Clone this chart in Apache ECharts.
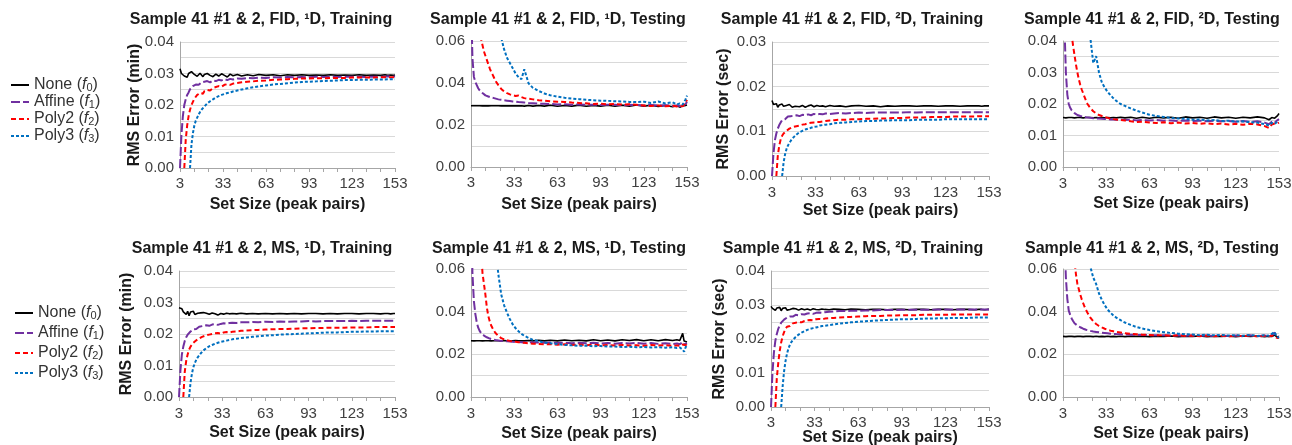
<!DOCTYPE html>
<html><head><meta charset="utf-8">
<script src="https://cdn.jsdelivr.net/npm/echarts@6/dist/echarts.min.js"></script>
<style>html,body{margin:0;padding:0;background:#fff}#c{width:1292px;height:445px}</style>
</head><body><div id="c"></div>
<script>
// ---------------- DATA ----------------
const SET_SIZE = [
 3,4,5,6,7,8,9,10,11,12,13,14,15,16,17,18,19,20,
 22,24,26,28,30,32,34,36,38,40,
 43,46,50,54,58,
 63,68,73,78,83,88,93,98,103,108,113,118,123,128,133,138,143,
 146,148,150,151,152,153];
const X_TICKS = [3,33,63,93,123,153];
const SERIES_NAMES = ['None','Affine','Poly2','Poly3'];
const SUBSCRIPTS = ['0','1','2','3'];

// Panel 1: FID 1D Training
const P1_NONE = [
 0.0315,0.0300,0.0303,0.0292,0.0298,0.0288,0.0300,0.0296,0.0306,0.0302,0.0297,0.0300,0.0291,0.0296,0.0301,0.0295,0.0290,0.0297,
 0.0300,0.0294,0.0290,0.0298,0.0292,0.0299,0.0294,0.0289,0.0298,0.0293,
 0.0297,0.0292,0.0296,0.0293,0.0297,
 0.0294,0.0296,0.0293,0.0296,0.0294,0.0296,0.0294,0.0295,0.0294,0.0296,0.0294,0.0295,0.0294,0.0296,0.0294,0.0295,0.0294,
 0.0296,0.0294,0.0295,0.0296,0.0294,0.0295];
const P1_AFFINE = [
 0.0000,0.0105,0.0165,0.0200,0.0218,0.0232,0.0240,0.0250,0.0255,0.0260,0.0258,0.0265,0.0268,0.0264,0.0270,0.0272,0.0268,0.0274,
 0.0276,0.0272,0.0278,0.0276,0.0280,0.0278,0.0282,0.0279,0.0283,0.0281,
 0.0284,0.0283,0.0286,0.0285,0.0287,
 0.0286,0.0288,0.0287,0.0289,0.0288,0.0289,0.0288,0.0290,0.0289,0.0290,0.0289,0.0290,0.0290,0.0290,0.0289,0.0290,0.0290,
 0.0290,0.0291,0.0290,0.0291,0.0290,0.0291];
const P1_POLY2 = [
 null,null,null,0.0000,0.0090,0.0135,0.0165,0.0185,0.0200,0.0210,0.0220,0.0225,0.0232,0.0230,0.0238,0.0240,0.0236,0.0244,
 0.0248,0.0246,0.0254,0.0257,0.0260,0.0258,0.0264,0.0266,0.0264,0.0268,
 0.0270,0.0272,0.0274,0.0275,0.0277,
 0.0278,0.0280,0.0281,0.0282,0.0283,0.0284,0.0284,0.0285,0.0285,0.0286,0.0286,0.0286,0.0287,0.0287,0.0287,0.0287,0.0288,
 0.0288,0.0288,0.0288,0.0288,0.0288,0.0288];
const P1_POLY3 = [
 null,null,null,null,null,null,null,0.0000,0.0075,0.0110,0.0135,0.0150,0.0160,0.0170,0.0178,0.0185,0.0190,0.0195,
 0.0205,0.0212,0.0218,0.0224,0.0228,0.0232,0.0235,0.0238,0.0240,0.0243,
 0.0246,0.0249,0.0253,0.0256,0.0259,
 0.0262,0.0265,0.0267,0.0269,0.0271,0.0273,0.0274,0.0275,0.0276,0.0277,0.0278,0.0279,0.0279,0.0280,0.0280,0.0281,0.0281,
 0.0281,0.0282,0.0282,0.0282,0.0282,0.0282];

// Panel 2: FID 1D Testing
const P2_NONE = [
 0.0292,0.0291,0.0292,0.0291,0.0292,0.0291,0.0292,0.0292,0.0291,0.0292,0.0291,0.0292,0.0291,0.0292,0.0292,0.0291,0.0292,0.0291,
 0.0292,0.0291,0.0292,0.0291,0.0292,0.0291,0.0292,0.0291,0.0292,0.0290,
 0.0293,0.0290,0.0293,0.0290,0.0294,
 0.0289,0.0293,0.0290,0.0294,0.0289,0.0293,0.0290,0.0294,0.0289,0.0294,0.0290,0.0295,0.0289,0.0294,0.0288,0.0293,0.0287,
 0.0292,0.0285,0.0291,0.0287,0.0293,0.0295];
const P2_AFFINE = [
 0.0800,0.0520,0.0430,0.0405,0.0390,0.0375,0.0365,0.0358,0.0352,0.0346,0.0341,0.0338,0.0336,0.0333,0.0331,0.0329,0.0328,0.0326,
 0.0322,0.0320,0.0318,0.0316,0.0314,0.0312,0.0311,0.0309,0.0308,0.0307,
 0.0305,0.0304,0.0302,0.0301,0.0300,
 0.0298,0.0299,0.0297,0.0298,0.0296,0.0297,0.0295,0.0297,0.0296,0.0294,0.0296,0.0295,0.0293,0.0295,0.0292,0.0294,0.0291,
 0.0293,0.0290,0.0292,0.0294,0.0300,0.0310];
const P2_POLY2 = [
 null,null,null,0.1500,0.1000,0.0800,0.0680,0.0610,0.0580,0.0550,0.0530,0.0510,0.0490,0.0470,0.0453,0.0440,0.0425,0.0410,
 0.0390,0.0372,0.0360,0.0352,0.0346,0.0342,0.0338,0.0340,0.0333,0.0328,
 0.0325,0.0322,0.0318,0.0316,0.0313,
 0.0311,0.0310,0.0307,0.0305,0.0303,0.0300,0.0302,0.0298,0.0300,0.0297,0.0299,0.0296,0.0293,0.0290,0.0293,0.0289,0.0292,
 0.0288,0.0291,0.0289,0.0295,0.0305,0.0320];
const P2_POLY3 = [
 null,null,null,null,null,null,null,null,null,null,null,null,null,null,null,null,null,0.0850,
 0.0720,0.0615,0.0560,0.0520,0.0495,0.0470,0.0445,0.0428,0.0418,0.0465,
 0.0398,0.0377,0.0362,0.0350,0.0342,
 0.0335,0.0330,0.0326,0.0323,0.0320,0.0318,0.0316,0.0315,0.0313,0.0312,0.0310,0.0309,0.0311,0.0305,0.0312,0.0303,0.0308,
 0.0298,0.0303,0.0297,0.0305,0.0322,0.0340];

// Panel 3: FID 2D Training
const P3_NONE = [
 0.0169,0.0160,0.0156,0.0162,0.0154,0.0159,0.0155,0.0161,0.0156,0.0153,0.0158,0.0155,0.0160,0.0156,0.0154,0.0158,0.0156,0.0159,
 0.0155,0.0158,0.0154,0.0157,0.0159,0.0155,0.0158,0.0156,0.0157,0.0155,
 0.0158,0.0156,0.0157,0.0155,0.0157,
 0.0158,0.0156,0.0157,0.0155,0.0157,0.0156,0.0157,0.0157,0.0156,0.0157,0.0157,0.0156,0.0157,0.0157,0.0156,0.0157,0.0157,
 0.0157,0.0156,0.0157,0.0157,0.0157,0.0157];
const P3_AFFINE = [
 0.0000,0.0050,0.0080,0.0095,0.0106,0.0114,0.0120,0.0125,0.0128,0.0127,0.0131,0.0133,0.0131,0.0134,0.0133,0.0135,0.0134,0.0136,
 0.0134,0.0137,0.0136,0.0138,0.0136,0.0139,0.0137,0.0139,0.0138,0.0140,
 0.0139,0.0140,0.0141,0.0140,0.0141,
 0.0142,0.0141,0.0142,0.0142,0.0142,0.0142,0.0142,0.0143,0.0142,0.0143,0.0143,0.0143,0.0143,0.0143,0.0143,0.0143,0.0143,
 0.0143,0.0143,0.0143,0.0143,0.0143,0.0143];
const P3_POLY2 = [
 null,null,null,0.0000,0.0045,0.0068,0.0082,0.0090,0.0095,0.0099,0.0101,0.0104,0.0106,0.0107,0.0109,0.0110,0.0111,0.0112,
 0.0113,0.0115,0.0116,0.0118,0.0119,0.0120,0.0121,0.0121,0.0122,0.0123,
 0.0124,0.0125,0.0126,0.0126,0.0127,
 0.0127,0.0128,0.0128,0.0129,0.0129,0.0130,0.0130,0.0131,0.0131,0.0131,0.0132,0.0132,0.0132,0.0133,0.0133,0.0133,0.0133,
 0.0134,0.0134,0.0134,0.0134,0.0134,0.0134];
const P3_POLY3 = [
 null,null,null,null,null,null,null,0.0000,0.0030,0.0048,0.0060,0.0068,0.0074,0.0079,0.0083,0.0087,0.0090,0.0093,
 0.0098,0.0101,0.0104,0.0106,0.0108,0.0110,0.0111,0.0113,0.0114,0.0115,
 0.0116,0.0118,0.0119,0.0120,0.0121,
 0.0122,0.0123,0.0123,0.0124,0.0124,0.0125,0.0125,0.0125,0.0126,0.0126,0.0126,0.0126,0.0127,0.0127,0.0127,0.0127,0.0127,
 0.0127,0.0127,0.0127,0.0127,0.0127,0.0127];

// Panel 4: FID 2D Testing
const P4_NONE = [
 0.0157,0.0157,0.0156,0.0157,0.0157,0.0156,0.0157,0.0157,0.0156,0.0157,0.0157,0.0156,0.0157,0.0157,0.0156,0.0157,0.0157,0.0156,
 0.0157,0.0156,0.0157,0.0156,0.0157,0.0156,0.0157,0.0156,0.0157,0.0156,
 0.0158,0.0156,0.0158,0.0155,0.0158,
 0.0155,0.0158,0.0156,0.0158,0.0155,0.0159,0.0156,0.0158,0.0155,0.0159,0.0156,0.0158,0.0155,0.0158,0.0156,0.0159,0.0156,
 0.0150,0.0157,0.0155,0.0160,0.0163,0.0170];
const P4_AFFINE = [
 0.0700,0.0450,0.0300,0.0230,0.0200,0.0188,0.0180,0.0175,0.0171,0.0168,0.0165,0.0163,0.0162,0.0161,0.0160,0.0159,0.0158,0.0157,
 0.0156,0.0155,0.0154,0.0154,0.0153,0.0152,0.0152,0.0151,0.0151,0.0150,
 0.0151,0.0149,0.0150,0.0148,0.0149,
 0.0148,0.0149,0.0147,0.0148,0.0146,0.0148,0.0146,0.0147,0.0145,0.0147,0.0145,0.0146,0.0144,0.0146,0.0143,0.0145,0.0141,
 0.0136,0.0144,0.0141,0.0146,0.0149,0.0152];
const P4_POLY2 = [
 null,null,null,0.2000,0.1200,0.0750,0.0420,0.0385,0.0355,0.0325,0.0300,0.0278,0.0260,0.0246,0.0234,0.0222,0.0210,0.0200,
 0.0187,0.0177,0.0170,0.0165,0.0162,0.0159,0.0156,0.0154,0.0152,0.0151,
 0.0149,0.0148,0.0145,0.0143,0.0144,
 0.0141,0.0140,0.0142,0.0139,0.0141,0.0138,0.0140,0.0137,0.0139,0.0136,0.0138,0.0135,0.0137,0.0134,0.0137,0.0135,0.0130,
 0.0124,0.0135,0.0138,0.0136,0.0139,0.0141];
const P4_POLY3 = [
 null,null,null,null,null,null,null,null,null,null,null,null,null,null,null,0.0800,0.0650,0.0550,
 0.0410,0.0330,0.0352,0.0300,0.0268,0.0252,0.0238,0.0228,0.0218,0.0210,
 0.0200,0.0194,0.0186,0.0179,0.0173,
 0.0166,0.0162,0.0159,0.0156,0.0154,0.0153,0.0150,0.0151,0.0148,0.0149,0.0146,0.0147,0.0144,0.0145,0.0142,0.0141,0.0136,
 0.0132,0.0140,0.0137,0.0141,0.0144,0.0143];

// Panel 5: MS 1D Training
const P5_NONE = [
 0.0283,0.0278,0.0280,0.0270,0.0276,0.0262,0.0272,0.0258,0.0270,0.0266,0.0272,0.0262,0.0268,0.0266,0.0270,0.0267,0.0264,0.0268,
 0.0266,0.0263,0.0267,0.0264,0.0260,0.0265,0.0263,0.0266,0.0264,0.0265,
 0.0264,0.0266,0.0264,0.0265,0.0264,
 0.0265,0.0264,0.0265,0.0264,0.0265,0.0264,0.0265,0.0265,0.0264,0.0265,0.0264,0.0265,0.0265,0.0264,0.0265,0.0265,0.0264,
 0.0265,0.0265,0.0264,0.0265,0.0265,0.0265];
const P5_AFFINE = [
 0.0000,0.0085,0.0135,0.0160,0.0178,0.0190,0.0198,0.0204,0.0208,0.0212,0.0215,0.0218,0.0216,0.0221,0.0223,0.0220,0.0225,0.0226,
 0.0228,0.0226,0.0230,0.0231,0.0229,0.0232,0.0234,0.0233,0.0235,0.0236,
 0.0235,0.0237,0.0237,0.0238,0.0237,
 0.0239,0.0238,0.0240,0.0239,0.0240,0.0240,0.0241,0.0240,0.0241,0.0241,0.0241,0.0241,0.0242,0.0241,0.0242,0.0242,0.0242,
 0.0242,0.0242,0.0242,0.0242,0.0242,0.0242];
const P5_POLY2 = [
 null,null,null,0.0000,0.0080,0.0115,0.0135,0.0150,0.0160,0.0166,0.0172,0.0176,0.0180,0.0184,0.0186,0.0189,0.0191,0.0193,
 0.0196,0.0198,0.0200,0.0202,0.0203,0.0201,0.0205,0.0206,0.0205,0.0207,
 0.0208,0.0210,0.0211,0.0212,0.0213,
 0.0214,0.0215,0.0216,0.0216,0.0217,0.0218,0.0218,0.0219,0.0219,0.0220,0.0220,0.0220,0.0221,0.0221,0.0221,0.0222,0.0222,
 0.0222,0.0222,0.0222,0.0222,0.0222,0.0222];
const P5_POLY3 = [
 null,null,null,null,null,null,null,0.0000,0.0045,0.0075,0.0095,0.0108,0.0118,0.0126,0.0132,0.0138,0.0143,0.0148,
 0.0155,0.0161,0.0165,0.0169,0.0172,0.0175,0.0177,0.0179,0.0181,0.0183,
 0.0185,0.0187,0.0189,0.0191,0.0193,
 0.0195,0.0196,0.0198,0.0199,0.0200,0.0201,0.0202,0.0203,0.0204,0.0205,0.0205,0.0206,0.0207,0.0207,0.0208,0.0208,0.0209,
 0.0209,0.0209,0.0209,0.0209,0.0209,0.0209];

// Panel 6: MS 1D Testing
const P6_NONE = [
 0.0264,0.0264,0.0263,0.0264,0.0264,0.0263,0.0264,0.0264,0.0263,0.0264,0.0264,0.0263,0.0264,0.0264,0.0263,0.0264,0.0264,0.0263,
 0.0264,0.0263,0.0265,0.0263,0.0264,0.0263,0.0265,0.0263,0.0264,0.0263,
 0.0265,0.0263,0.0266,0.0263,0.0266,
 0.0263,0.0267,0.0264,0.0266,0.0263,0.0268,0.0264,0.0267,0.0263,0.0268,0.0265,0.0269,0.0264,0.0268,0.0264,0.0269,0.0265,
 0.0268,0.0265,0.0298,0.0262,0.0255,0.0258];
const P6_AFFINE = [
 0.0900,0.0580,0.0450,0.0390,0.0350,0.0325,0.0310,0.0300,0.0293,0.0288,0.0284,0.0280,0.0277,0.0274,0.0272,0.0270,0.0268,0.0267,
 0.0265,0.0263,0.0262,0.0261,0.0260,0.0259,0.0258,0.0258,0.0257,0.0256,
 0.0257,0.0255,0.0256,0.0254,0.0255,
 0.0253,0.0255,0.0252,0.0254,0.0252,0.0254,0.0251,0.0253,0.0250,0.0253,0.0251,0.0254,0.0250,0.0253,0.0249,0.0252,0.0248,
 0.0251,0.0247,0.0258,0.0245,0.0250,0.0252];
const P6_POLY2 = [
 null,null,null,0.3000,0.1800,0.1200,0.0900,0.0680,0.0580,0.0530,0.0480,0.0420,0.0380,0.0355,0.0335,0.0322,0.0310,0.0300,
 0.0286,0.0276,0.0270,0.0266,0.0263,0.0261,0.0259,0.0257,0.0255,0.0254,
 0.0252,0.0250,0.0249,0.0247,0.0248,
 0.0245,0.0247,0.0244,0.0246,0.0243,0.0245,0.0242,0.0244,0.0241,0.0244,0.0241,0.0243,0.0240,0.0244,0.0241,0.0243,0.0240,
 0.0242,0.0239,0.0246,0.0238,0.0243,0.0246];
const P6_POLY3 = [
 null,null,null,null,null,null,null,null,null,null,null,null,null,null,null,0.0900,0.0800,0.0700,
 0.0575,0.0480,0.0430,0.0395,0.0365,0.0340,0.0322,0.0308,0.0296,0.0287,
 0.0277,0.0268,0.0261,0.0255,0.0252,
 0.0248,0.0244,0.0242,0.0240,0.0241,0.0238,0.0239,0.0236,0.0237,0.0234,0.0236,0.0233,0.0235,0.0232,0.0234,0.0231,0.0233,
 0.0230,0.0232,0.0222,0.0212,0.0232,0.0245];

// Panel 7: MS 2D Training
const P7_NONE = [
 0.0296,0.0290,0.0293,0.0284,0.0291,0.0286,0.0293,0.0283,0.0290,0.0288,0.0292,0.0285,0.0290,0.0287,0.0284,0.0290,0.0286,0.0289,
 0.0285,0.0289,0.0286,0.0288,0.0285,0.0289,0.0287,0.0286,0.0288,0.0287,
 0.0286,0.0288,0.0287,0.0286,0.0288,
 0.0287,0.0286,0.0287,0.0287,0.0286,0.0287,0.0287,0.0286,0.0287,0.0287,0.0286,0.0287,0.0287,0.0286,0.0287,0.0287,0.0286,
 0.0287,0.0287,0.0286,0.0287,0.0287,0.0287];
const P7_AFFINE = [
 0.0000,0.0100,0.0160,0.0195,0.0215,0.0230,0.0240,0.0248,0.0253,0.0257,0.0260,0.0263,0.0261,0.0266,0.0268,0.0266,0.0270,0.0271,
 0.0270,0.0273,0.0272,0.0275,0.0276,0.0274,0.0277,0.0278,0.0277,0.0279,
 0.0280,0.0281,0.0282,0.0282,0.0283,
 0.0283,0.0284,0.0284,0.0285,0.0285,0.0285,0.0286,0.0286,0.0286,0.0286,0.0286,0.0287,0.0287,0.0287,0.0287,0.0287,0.0287,
 0.0287,0.0287,0.0287,0.0287,0.0287,0.0287];
const P7_POLY2 = [
 null,null,null,0.0000,0.0085,0.0130,0.0165,0.0190,0.0208,0.0220,0.0230,0.0236,0.0240,0.0238,0.0243,0.0246,0.0244,0.0248,
 0.0250,0.0249,0.0253,0.0255,0.0256,0.0255,0.0258,0.0259,0.0258,0.0260,
 0.0261,0.0262,0.0263,0.0264,0.0265,
 0.0266,0.0267,0.0268,0.0268,0.0269,0.0269,0.0270,0.0270,0.0270,0.0271,0.0271,0.0271,0.0271,0.0272,0.0272,0.0272,0.0272,
 0.0272,0.0272,0.0272,0.0272,0.0272,0.0272];
const P7_POLY3 = [
 null,null,null,null,null,null,null,0.0000,0.0060,0.0105,0.0135,0.0157,0.0172,0.0183,0.0191,0.0197,0.0202,0.0206,
 0.0213,0.0219,0.0223,0.0227,0.0230,0.0232,0.0234,0.0236,0.0238,0.0239,
 0.0241,0.0243,0.0245,0.0247,0.0249,
 0.0251,0.0252,0.0254,0.0255,0.0256,0.0257,0.0258,0.0258,0.0259,0.0260,0.0260,0.0261,0.0261,0.0262,0.0262,0.0262,0.0263,
 0.0263,0.0263,0.0263,0.0263,0.0263,0.0263];

// Panel 8: MS 2D Testing
const P8_NONE = [
 0.0284,0.0284,0.0283,0.0284,0.0284,0.0283,0.0284,0.0284,0.0283,0.0284,0.0284,0.0283,0.0284,0.0284,0.0283,0.0284,0.0284,0.0283,
 0.0284,0.0283,0.0285,0.0283,0.0284,0.0283,0.0285,0.0283,0.0284,0.0283,
 0.0285,0.0283,0.0285,0.0284,0.0285,
 0.0283,0.0285,0.0284,0.0286,0.0283,0.0285,0.0284,0.0286,0.0283,0.0285,0.0284,0.0286,0.0283,0.0286,0.0284,0.0286,0.0283,
 0.0285,0.0284,0.0290,0.0283,0.0280,0.0282];
const P8_AFFINE = [
 0.1100,0.0750,0.0560,0.0460,0.0405,0.0385,0.0368,0.0356,0.0346,0.0340,0.0335,0.0331,0.0327,0.0323,0.0320,0.0318,0.0315,0.0313,
 0.0310,0.0307,0.0305,0.0303,0.0301,0.0300,0.0299,0.0297,0.0296,0.0295,
 0.0294,0.0293,0.0292,0.0291,0.0291,
 0.0290,0.0289,0.0290,0.0288,0.0289,0.0287,0.0289,0.0287,0.0288,0.0286,0.0289,0.0286,0.0288,0.0285,0.0289,0.0285,0.0288,
 0.0284,0.0290,0.0302,0.0288,0.0280,0.0284];
const P8_POLY2 = [
 null,null,null,0.4000,0.2800,0.1800,0.1200,0.0800,0.0640,0.0575,0.0530,0.0505,0.0480,0.0458,0.0440,0.0423,0.0408,0.0395,
 0.0372,0.0355,0.0342,0.0333,0.0326,0.0320,0.0315,0.0311,0.0308,0.0305,
 0.0302,0.0299,0.0296,0.0294,0.0292,
 0.0291,0.0289,0.0290,0.0287,0.0289,0.0286,0.0288,0.0285,0.0288,0.0285,0.0287,0.0284,0.0287,0.0285,0.0288,0.0284,0.0287,
 0.0284,0.0288,0.0283,0.0280,0.0276,0.0278];
const P8_POLY3 = [
 null,null,null,null,null,null,null,null,null,null,null,null,null,null,null,0.1000,0.0850,0.0750,
 0.0610,0.0560,0.0530,0.0485,0.0455,0.0430,0.0410,0.0395,0.0382,0.0372,
 0.0360,0.0349,0.0338,0.0328,0.0321,
 0.0314,0.0308,0.0304,0.0300,0.0297,0.0294,0.0293,0.0290,0.0292,0.0289,0.0291,0.0288,0.0290,0.0287,0.0291,0.0286,0.0290,
 0.0287,0.0296,0.0305,0.0285,0.0280,0.0277];

const PANEL_TITLES = [
 'Sample 41 #1 & 2, FID, \u00B9D, Training',
 'Sample 41 #1 & 2, FID, \u00B9D, Testing',
 'Sample 41 #1 & 2, FID, \u00B2D, Training',
 'Sample 41 #1 & 2, FID, \u00B2D, Testing',
 'Sample 41 #1 & 2, MS, \u00B9D, Training',
 'Sample 41 #1 & 2, MS, \u00B9D, Testing',
 'Sample 41 #1 & 2, MS, \u00B2D, Training',
 'Sample 41 #1 & 2, MS, \u00B2D, Testing'];
const PANEL_DATA = [
 [P1_NONE,P1_AFFINE,P1_POLY2,P1_POLY3],
 [P2_NONE,P2_AFFINE,P2_POLY2,P2_POLY3],
 [P3_NONE,P3_AFFINE,P3_POLY2,P3_POLY3],
 [P4_NONE,P4_AFFINE,P4_POLY2,P4_POLY3],
 [P5_NONE,P5_AFFINE,P5_POLY2,P5_POLY3],
 [P6_NONE,P6_AFFINE,P6_POLY2,P6_POLY3],
 [P7_NONE,P7_AFFINE,P7_POLY2,P7_POLY3],
 [P8_NONE,P8_AFFINE,P8_POLY2,P8_POLY3]];
const Y_MAX = [0.04,0.06,0.03,0.04,0.04,0.06,0.04,0.06];
const Y_STEP = [0.01,0.02,0.01,0.01,0.01,0.02,0.01,0.02];
const Y_NAMES = ['RMS Error (min)','','RMS Error (sec)','','RMS Error (min)','','RMS Error (sec)',''];
const X_NAME = 'Set Size (peak pairs)';

// ---------------- LAYOUT / STYLE ----------------
const FONT = '"Liberation Sans", Arial, Helvetica, sans-serif';
const GRIDS = [
 [180,42,215,126],[471,41,216,126],[772,42,217,134],[1063,41,216,126],
 [179,271,216,126],[471,269,216,128],[771,271,218,136],[1063,269,216,128]];
const TITLE_POS = [[261,12],[558,12],[852,12],[1152,12],[262,241],[559,241],[853,241],[1152,241]];
const XLABEL_MARGIN = [8,8,9,9,9,9,8,9];
const XNAME_GAP = [29,30,27,29,28,29,23,29];
const YNAME_GAP = [37,0,40,0,44,0,43,0];
const LINE_STYLES = [
 {color:'#000000', width:1.6, type:'solid'},
 {color:'#7030A0', width:2, type:[9,3]},
 {color:'#FF0000', width:2, type:[5,3]},
 {color:'#0070C0', width:2, type:[3,2]}];
const AXIS_GRAY = '#a6a6a6';
const GRID_GRAY = '#d9d9d9';

const legendRich = {
 t:{fontSize:16, lineHeight:16, color:'#333', fontFamily:FONT},
 i:{fontSize:16, lineHeight:16, color:'#333', fontStyle:'italic', fontFamily:FONT},
 s:{fontSize:11, lineHeight:10, color:'#333', verticalAlign:'bottom', fontFamily:FONT}
};
function legendFmt(name){
  const k = SERIES_NAMES.indexOf(name);
  return '{t|' + name + ' (}{i|f}{s|' + SUBSCRIPTS[k] + '}{t|)}';
}
function makeLegend(left, top, gap, w){
  return {orient:'vertical', left:left, top:top, padding:0, itemGap:gap, itemWidth:w, itemHeight:12,
    selectedMode:false, data:SERIES_NAMES, formatter:legendFmt,
    itemStyle:{opacity:0, color:'rgba(0,0,0,0)', borderWidth:0},
    textStyle:{fontSize:16, color:'#333', fontFamily:FONT, rich:legendRich}};
}

const option = {
  animation:false,
  backgroundColor:'#ffffff',
  textStyle:{fontFamily:FONT},
  title: PANEL_TITLES.map((t,i)=>({text:t, left:TITLE_POS[i][0], top:TITLE_POS[i][1], textAlign:'center', padding:0,
     textStyle:{fontSize:16, fontWeight:'bold', color:'#1a1a1a', fontFamily:FONT}})),
  legend:[makeLegend(10,77,1,18), makeLegend(14,305,4,18)],
  grid: GRIDS.map(g=>({left:g[0], top:g[1], width:g[2], height:g[3], containLabel:false, outerBoundsMode:'none'})),
  xAxis: GRIDS.map((g,i)=>({
    gridIndex:i, type:'value', min:X_TICKS[0], max:X_TICKS[X_TICKS.length-1], interval:X_TICKS[1]-X_TICKS[0],
    name:X_NAME, nameLocation:'middle', nameGap:XNAME_GAP[i], nameMoveOverlap:false,
    nameTextStyle:{fontSize:16, fontWeight:'bold', color:'#1a1a1a', fontFamily:FONT},
    axisLine:{show:true, onZero:false, lineStyle:{color:AXIS_GRAY, width:1}},
    axisTick:{show:true, length:4, lineStyle:{color:AXIS_GRAY}},
    minorTick:{show:true, splitNumber:3, length:4, lineStyle:{color:AXIS_GRAY}},
    axisLabel:{show:true, margin:XLABEL_MARGIN[i], fontSize:15, color:'#404040', fontFamily:FONT, showMinLabel:true, showMaxLabel:true},
    splitLine:{show:false}, minorSplitLine:{show:false}
  })),
  yAxis: GRIDS.map((g,i)=>({
    gridIndex:i, type:'value', min:0, max:Y_MAX[i], interval:Y_STEP[i],
    name:Y_NAMES[i], nameLocation:'middle', nameGap:YNAME_GAP[i], nameMoveOverlap:false,
    nameTextStyle:{fontSize:16, fontWeight:'bold', color:'#1a1a1a', fontFamily:FONT},
    axisLine:{show:true, onZero:false, lineStyle:{color:AXIS_GRAY, width:1}},
    axisTick:{show:false},
    minorTick:{show:false, splitNumber:2},
    axisLabel:{show:true, margin:6, fontSize:15, color:'#404040', fontFamily:FONT, formatter:v=>v.toFixed(2)},
    splitLine:{show:true, lineStyle:{color:GRID_GRAY, width:1}},
    minorSplitLine:{show:true, lineStyle:{color:GRID_GRAY, width:1}}
  })),
  series: []
};
PANEL_DATA.forEach((panel,i)=>{
  panel.forEach((vals,k)=>{
    option.series.push({
      name:SERIES_NAMES[k], type:'line', xAxisIndex:i, yAxisIndex:i,
      symbol:'none', showSymbol:false, clip:true, silent:true,
      data: SET_SIZE.map((x,j)=>[x, vals[j]]),
      lineStyle: LINE_STYLES[k], itemStyle:{color:LINE_STYLES[k].color}
    });
  });
});
const chart = echarts.init(document.getElementById('c'), null, {renderer:'canvas'});
chart.setOption(option);
</script></body></html>
